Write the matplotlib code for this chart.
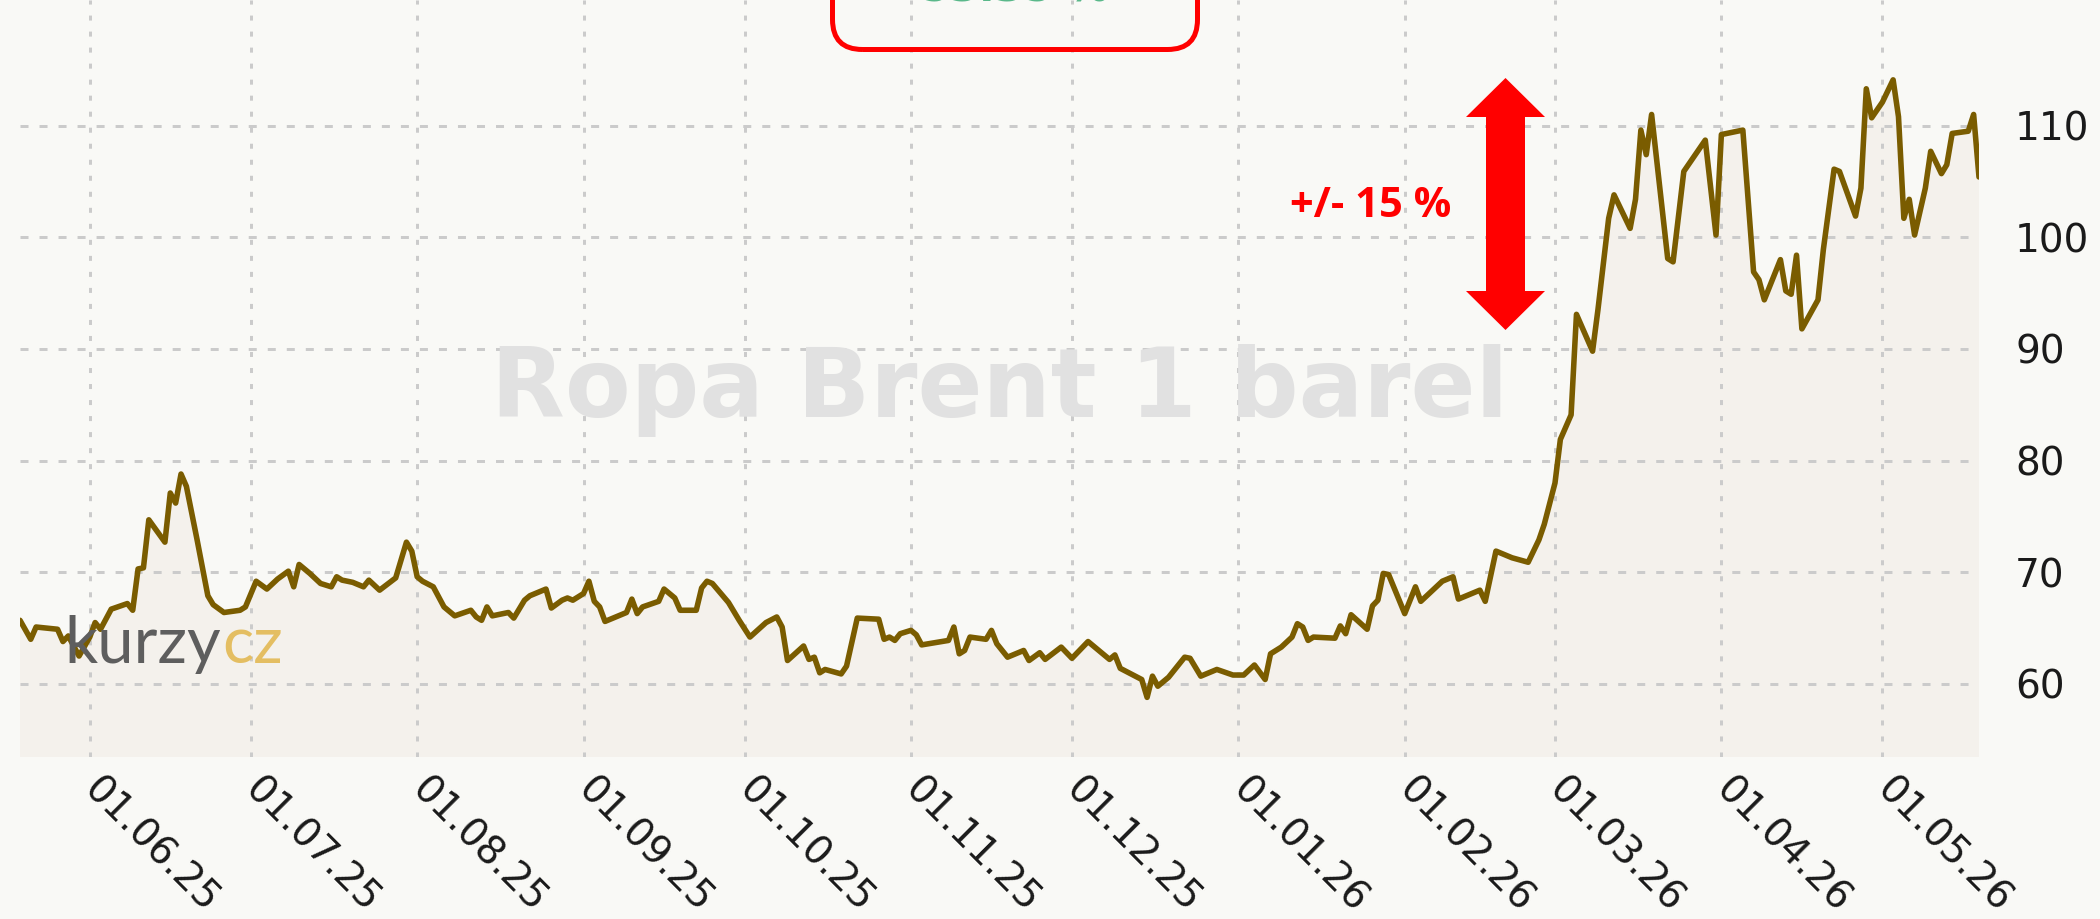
import matplotlib
matplotlib.use("Agg")
import matplotlib.pyplot as plt
from matplotlib.patches import FancyBboxPatch, Polygon
from matplotlib.transforms import IdentityTransform
import pandas as pd

# ---------------- data ----------------
dates = [
    "2025-05-19", "2025-05-21", "2025-05-22", "2025-05-26", "2025-05-27", "2025-05-28", "2025-05-30",
    "2025-06-01", "2025-06-02", "2025-06-03", "2025-06-05", "2025-06-08", "2025-06-09", "2025-06-10",
    "2025-06-11", "2025-06-12", "2025-06-15", "2025-06-16", "2025-06-17", "2025-06-18", "2025-06-19",
    "2025-06-21", "2025-06-23", "2025-06-24", "2025-06-26", "2025-06-29", "2025-06-30",
    "2025-07-02", "2025-07-04", "2025-07-06", "2025-07-08", "2025-07-09", "2025-07-10", "2025-07-12",
    "2025-07-14", "2025-07-16", "2025-07-17", "2025-07-18", "2025-07-20", "2025-07-22", "2025-07-23",
    "2025-07-25", "2025-07-28", "2025-07-30", "2025-07-31",
    "2025-08-01", "2025-08-02", "2025-08-04", "2025-08-06", "2025-08-08", "2025-08-11", "2025-08-12",
    "2025-08-13", "2025-08-14", "2025-08-15", "2025-08-18", "2025-08-19", "2025-08-21", "2025-08-22",
    "2025-08-25", "2025-08-26", "2025-08-28", "2025-08-29", "2025-08-30",
    "2025-09-01", "2025-09-02", "2025-09-03", "2025-09-04", "2025-09-05", "2025-09-09", "2025-09-10",
    "2025-09-11", "2025-09-12", "2025-09-15", "2025-09-16", "2025-09-18", "2025-09-19", "2025-09-22",
    "2025-09-23", "2025-09-24", "2025-09-25", "2025-09-28", "2025-09-30",
    "2025-10-02", "2025-10-05", "2025-10-07", "2025-10-08", "2025-10-09", "2025-10-12", "2025-10-13",
    "2025-10-14", "2025-10-15", "2025-10-16", "2025-10-19", "2025-10-20", "2025-10-22", "2025-10-26",
    "2025-10-27", "2025-10-28", "2025-10-29", "2025-10-30",
    "2025-11-01", "2025-11-02", "2025-11-03", "2025-11-08", "2025-11-09", "2025-11-10", "2025-11-11",
    "2025-11-12", "2025-11-15", "2025-11-16", "2025-11-17", "2025-11-19", "2025-11-22", "2025-11-23",
    "2025-11-25", "2025-11-26", "2025-11-29",
    "2025-12-01", "2025-12-04", "2025-12-08", "2025-12-09", "2025-12-10", "2025-12-14", "2025-12-15",
    "2025-12-16", "2025-12-17", "2025-12-19", "2025-12-22", "2025-12-23", "2025-12-25", "2025-12-28",
    "2025-12-31",
    "2026-01-02", "2026-01-04", "2026-01-06", "2026-01-07", "2026-01-09", "2026-01-11", "2026-01-12",
    "2026-01-13", "2026-01-14", "2026-01-15", "2026-01-19", "2026-01-20", "2026-01-21", "2026-01-22",
    "2026-01-25", "2026-01-26", "2026-01-27", "2026-01-28", "2026-01-29",
    "2026-02-01", "2026-02-03", "2026-02-04", "2026-02-08", "2026-02-10", "2026-02-11", "2026-02-15",
    "2026-02-16", "2026-02-18", "2026-02-21", "2026-02-24", "2026-02-26", "2026-02-27",
    "2026-03-01", "2026-03-02", "2026-03-04", "2026-03-05", "2026-03-08", "2026-03-09", "2026-03-11",
    "2026-03-12", "2026-03-15", "2026-03-16", "2026-03-17", "2026-03-18", "2026-03-19", "2026-03-22",
    "2026-03-23", "2026-03-25", "2026-03-29", "2026-03-31",
    "2026-04-01", "2026-04-05", "2026-04-07", "2026-04-08", "2026-04-09", "2026-04-12", "2026-04-13",
    "2026-04-14", "2026-04-15", "2026-04-16", "2026-04-19", "2026-04-20", "2026-04-22", "2026-04-23",
    "2026-04-26", "2026-04-27", "2026-04-28", "2026-04-29",
    "2026-05-01", "2026-05-03", "2026-05-04", "2026-05-05", "2026-05-06", "2026-05-07", "2026-05-09",
    "2026-05-10", "2026-05-12", "2026-05-13", "2026-05-14", "2026-05-17", "2026-05-18", "2026-05-19",
]
prices = [
    65.7, 64.0, 65.1, 64.9, 63.8, 64.3, 62.5,
    64.2, 65.5, 64.9, 66.7, 67.2, 66.6, 70.3,
    70.4, 74.7, 72.7, 77.1, 76.2, 78.8, 77.7,
    72.9, 67.9, 67.1, 66.4, 66.6, 66.9,
    69.2, 68.5, 69.4, 70.1, 68.7, 70.7, 69.9,
    69.0, 68.7, 69.6, 69.3, 69.1, 68.7, 69.3,
    68.4, 69.5, 72.7, 71.9,
    69.6, 69.2, 68.7, 66.9, 66.1, 66.6, 66.0,
    65.7, 66.9, 66.1, 66.4, 65.9, 67.5, 67.9,
    68.5, 66.8, 67.5, 67.7, 67.5,
    68.1, 69.2, 67.4, 66.9, 65.6, 66.4, 67.6,
    66.3, 66.9, 67.4, 68.5, 67.7, 66.6, 66.6,
    68.6, 69.2, 69.0, 67.3, 65.7,
    64.2, 65.5, 66.0, 65.1, 62.1, 63.4, 62.2,
    62.4, 61.0, 61.3, 60.9, 61.6, 65.9, 65.8,
    64.0, 64.2, 63.9, 64.5,
    64.8, 64.4, 63.5, 63.9, 65.1, 62.7, 63.0,
    64.2, 64.0, 64.8, 63.6, 62.4, 63.0, 62.1,
    62.8, 62.2, 63.3,
    62.3, 63.8, 62.2, 62.6, 61.4, 60.4, 58.8,
    60.7, 59.8, 60.6, 62.4, 62.3, 60.7, 61.3,
    60.8,
    60.8, 61.7, 60.4, 62.7, 63.3, 64.2, 65.4,
    65.1, 63.9, 64.2, 64.1, 65.2, 64.5, 66.2,
    64.9, 67.0, 67.5, 69.9, 69.8,
    66.3, 68.7, 67.4, 69.2, 69.6, 67.6, 68.4,
    67.4, 71.9, 71.3, 70.9, 72.9, 74.3,
    78.0, 81.9, 84.1, 93.1, 89.8, 93.5, 101.7,
    103.8, 100.8, 103.4, 109.6, 107.4, 111.0, 98.1,
    97.8, 105.9, 108.7, 100.2,
    109.2, 109.6, 96.9, 96.2, 94.4, 98.0, 95.2,
    94.9, 98.4, 91.8, 94.4, 98.9, 106.1, 105.9,
    101.9, 104.4, 113.3, 110.7,
    112.1, 114.1, 110.8, 101.7, 103.4, 100.2, 104.4,
    107.7, 105.7, 106.5, 109.3, 109.5, 111.0, 105.4,
]
tick_dates = ["2025-06-01", "2025-07-01", "2025-08-01", "2025-09-01", "2025-10-01", "2025-11-01",
              "2025-12-01", "2026-01-01", "2026-02-01", "2026-03-01", "2026-04-01", "2026-05-01"]
tick_labels = ["01.06.25", "01.07.25", "01.08.25", "01.09.25", "01.10.25", "01.11.25",
               "01.12.25", "01.01.26", "01.02.26", "01.03.26", "01.04.26", "01.05.26"]
y_ticks = [60, 70, 80, 90, 100, 110]
y_labels = ["60", "70", "80", "90", "100", "110"]
watermark = "Ropa Brent 1 barel"
range_label = "+/- 15 %"
box_label = "53.35 %"

# ---------------- figure ----------------
W, H, DPI = 2100, 919, 100
BG = "#f9f9f6"
FILL = "#f4f1ec"
LINE = "#7a5c00"
GRID = "#cbcbcb"

fig = plt.figure(figsize=(W / DPI, H / DPI), dpi=DPI, facecolor=BG)
ax = fig.add_axes([20 / W, 1 - 757 / H, (1979 - 20) / W, 757 / H])
ax.set_facecolor(BG)

x = pd.to_datetime(dates)
ax.fill_between(x, prices, 0, color=FILL, lw=0, zorder=1)
ax.plot(x, prices, color=LINE, lw=4.0, zorder=4, solid_joinstyle="round", solid_capstyle="round")

ax.set_xlim(x[0], x[-1])
ax.set_ylim(53.46, 121.25)

for s in ax.spines.values():
    s.set_visible(False)

ax.set_axisbelow("line")
ax.set_xticks(pd.to_datetime(tick_dates))
ax.set_xticklabels(tick_labels, rotation=-45, ha="left", va="center",
                   rotation_mode="anchor", fontsize=28, color="#1a1a1a")
ax.yaxis.tick_right()
ax.set_yticks(y_ticks)
ax.set_yticklabels(y_labels, fontsize=28, color="#1a1a1a")
ax.tick_params(axis="both", length=0)
ax.tick_params(axis="x", pad=19)
ax.tick_params(axis="y", pad=26)

ax.xaxis.grid(True, color=GRID, lw=2.16, linestyle=(0, (1.67, 3.67)))
ax.yaxis.grid(True, color=GRID, lw=2.16, linestyle=(0, (2.67, 3.67)))

# watermark title
ax.text(1000 / W, 1 - 417 / H, watermark, transform=fig.transFigure, fontsize=69,
        fontweight="bold", color="#e1e1e1", ha="center", va="baseline", zorder=2,
        family="DejaVu Sans")

# kurzy.cz logo ("cz" placed right after "kurzy")
logo = ax.text(64 / W, 1 - 663 / H, "kurzy", transform=fig.transFigure, fontsize=47,
               family="Lato", fontweight="normal", color="#5e5e5e", ha="left",
               va="baseline", zorder=5)
ax.annotate("cz", xy=(1, 0), xycoords=logo, xytext=(1, 0), textcoords="offset points",
            fontsize=47, family="Lato", fontweight="normal", color="#e4be62",
            ha="left", va="bottom", zorder=5)

# red double arrow
cx, hw, sw = 1505.5, 39.5, 19.5
pts_img = [(cx, 78), (cx + hw, 117), (cx + sw, 117), (cx + sw, 291), (cx + hw, 291),
           (cx, 330), (cx - hw, 291), (cx - sw, 291), (cx - sw, 117), (cx - hw, 117)]
arrow = Polygon([(px, H - py) for px, py in pts_img], closed=True, facecolor="#ff0000",
                edgecolor="none", transform=IdentityTransform())
fig.add_artist(arrow)

fig.text(1371 / W, 1 - 217 / H, range_label, fontsize=30, fontweight="bold",
         family="Open Sans", color="#ff0000", ha="center", va="baseline")

# red rounded box at the top with (cut) green value
box = FancyBboxPatch((832.5, H - 49.5), 365, 200,
                     boxstyle="round,pad=0,rounding_size=30",
                     facecolor="none", edgecolor="#ff0000", lw=3.6,
                     transform=IdentityTransform())
fig.add_artist(box)
fig.text(1015 / W, 1 - 1 / H, box_label, fontsize=30, fontweight="bold",
         family="DejaVu Sans", color="#5ab88a", ha="center", va="baseline")

fig.savefig("out.png", dpi=DPI, facecolor=BG)
